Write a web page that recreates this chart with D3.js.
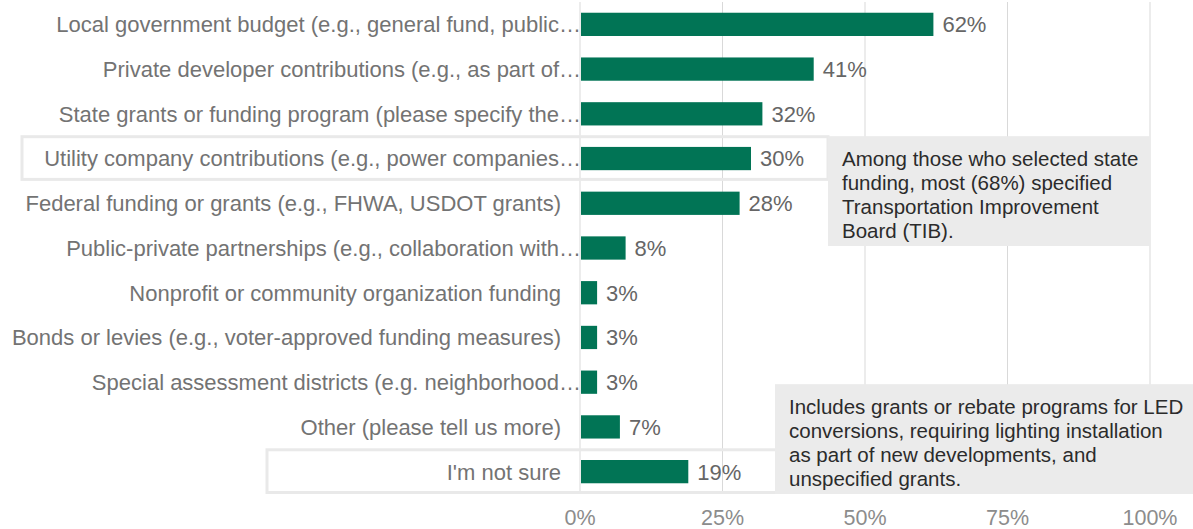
<!DOCTYPE html>
<html>
<head>
<meta charset="utf-8">
<script src="https://cdn.jsdelivr.net/npm/d3@7"></script>
<style>
  body { margin: 0; background: #fff; }
  svg text { font-family: "Liberation Sans", Arial, sans-serif; }
</style>
</head>
<body>
<svg id="chart" width="1193" height="529"></svg>
<script>
// categories (labels as shown, truncated ones keep their ellipsis)
var categories = [
  "Local government budget (e.g., general fund, public…",
  "Private developer contributions (e.g., as part of…",
  "State grants or funding program (please specify the…",
  "Utility company contributions (e.g., power companies…",
  "Federal funding or grants (e.g., FHWA, USDOT grants)",
  "Public-private partnerships (e.g., collaboration with…",
  "Nonprofit or community organization funding",
  "Bonds or levies (e.g., voter-approved funding measures)",
  "Special assessment districts (e.g. neighborhood…",
  "Other (please tell us more)",
  "I'm not sure"
];
var values = [0.62, 0.41, 0.32, 0.30, 0.28, 0.08, 0.03, 0.03, 0.03, 0.07, 0.19];
var tickValues = [0, 0.25, 0.5, 0.75, 1];
var highlighted = ["Utility company contributions (e.g., power companies…", "I'm not sure"];

var noteState = [
  "Among those who selected state",
  "funding, most (68%) specified",
  "Transportation Improvement",
  "Board (TIB)."
];
var noteUtility = [
  "Includes grants or rebate programs for LED",
  "conversions, requiring lighting installation",
  "as part of new developments, and",
  "unspecified grants."
];

var svg = d3.select("#chart");
var data = categories.map(function(c, i) { return { cat: c, value: values[i] }; });

var xScale = d3.scaleLinear().domain([0, 1]).range([580, 1150]);
var yScale = d3.scaleBand().domain(categories).range([2, 494]).paddingInner(0.48).paddingOuter(0.24);
var step = yScale.step();
var center = function(c) { return yScale(c) + yScale.bandwidth() / 2; };

// gridlines
svg.append("g").selectAll("line")
  .data(tickValues)
  .enter().append("line")
  .attr("x1", d => xScale(d)).attr("x2", d => xScale(d))
  .attr("y1", 2).attr("y2", 494)
  .attr("stroke", "#d9d9d9")
  .attr("stroke-width", 1);

// highlight outlines around two rows
var hlLeft = { "Utility company contributions (e.g., power companies…": 22, "I'm not sure": 267 };
var hlRight = { "Utility company contributions (e.g., power companies…": 828, "I'm not sure": 780 };
svg.append("g").selectAll("rect")
  .data(highlighted)
  .enter().append("rect")
  .attr("x", d => hlLeft[d])
  .attr("y", d => center(d) - step / 2 + 0.5)
  .attr("width", d => hlRight[d] - hlLeft[d])
  .attr("height", step - 2)
  .attr("fill", "none")
  .attr("stroke", "#e9e9e9")
  .attr("stroke-width", 3);

// bars
svg.append("g").selectAll("rect")
  .data(data)
  .enter().append("rect")
  .attr("x", xScale(0) + 1)
  .attr("y", d => yScale(d.cat))
  .attr("width", d => xScale(d.value) - xScale(0) - 1)
  .attr("height", yScale.bandwidth())
  .attr("fill", "#017455");

// value labels
svg.append("g").selectAll("text")
  .data(data)
  .enter().append("text")
  .attr("x", d => xScale(d.value) + 9)
  .attr("y", d => center(d.cat))
  .attr("dy", "0.36em")
  .attr("font-size", 22)
  .attr("fill", "#666")
  .text(d => Math.round(d.value * 100) + "%");

// category labels
svg.append("g").selectAll("text")
  .data(categories)
  .enter().append("text")
  .attr("x", d => d.slice(-1) === "…" ? xScale(0) + 1 : xScale(0) - 19)
  .attr("y", d => center(d))
  .attr("dy", "0.36em")
  .attr("text-anchor", "end")
  .attr("font-size", 22)
  .attr("fill", "#737373")
  .text(d => d);

// x axis tick labels
svg.append("g").selectAll("text")
  .data(tickValues)
  .enter().append("text")
  .attr("x", d => xScale(d))
  .attr("y", 517)
  .attr("dy", "0.36em")
  .attr("text-anchor", "middle")
  .attr("font-size", 21.5)
  .attr("fill", "#8c8c8c")
  .text(d3.format(".0%"));

// annotation boxes
function note(lines, x0, x1, y0, y1) {
  var g = svg.append("g");
  g.append("rect")
    .attr("x", x0).attr("y", y0)
    .attr("width", x1 - x0).attr("height", y1 - y0)
    .attr("fill", "#ebebeb");
  g.selectAll("text")
    .data(lines)
    .enter().append("text")
    .attr("x", x0 + 14)
    .attr("y", (d, i) => y0 + 22 + i * 24.2)
    .attr("dy", "0.36em")
    .attr("font-size", 20.5)
    .attr("fill", "#2b2b2b")
    .text(d => d);
}
note(noteState, 828, 1150, center(categories[3]) - step / 2, center(categories[5]) - 2);
note(noteUtility, 775, 1193, center(categories[8]) + 2, 494);
</script>
</body>
</html>
